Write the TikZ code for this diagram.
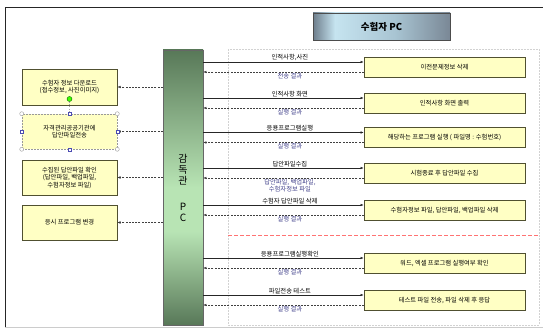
\documentclass[tikz,border=0pt]{standalone}
\usepackage{fontspec}
\newfontfamily\kr{Noto Sans CJK KR}
\usetikzlibrary{arrows.meta}
\definecolor{boxfill}{HTML}{FFFFC4}
\definecolor{boxdraw}{HTML}{505030}
\definecolor{bardk}{HTML}{587858}
\definecolor{barlt}{HTML}{B8E4B4}
\definecolor{retcol}{HTML}{40408A}
\definecolor{tdk}{HTML}{6E7E8C}
\definecolor{tlt}{HTML}{C6E4F0}
\definecolor{tmid}{HTML}{A8C4D2}
\definecolor{tdkr}{HTML}{7A8896}
\pgfdeclareverticalshading{barshade}{100bp}{color(0bp)=(bardk); color(25bp)=(bardk); color(42bp)=(barlt); color(50bp)=(barlt); color(75bp)=(bardk); color(100bp)=(bardk)}
\pgfdeclarehorizontalshading{titleshade}{100bp}{color(0bp)=(tdk); color(25bp)=(tdk); color(33bp)=(tlt); color(55bp)=(tmid); color(75bp)=(tdkr); color(100bp)=(tdkr)}
\begin{document}
\begin{tikzpicture}[x=1pt,y=-1pt,
  txt/.style={font=\kr\fontsize{6.3}{7.5}\selectfont},
  rbox/.style={txt, draw=boxdraw, fill=boxfill, line width=0.6pt, minimum width=161pt, minimum height=20pt, inner sep=0pt},
  lbox/.style={txt, draw=boxdraw, fill=boxfill, line width=0.6pt, minimum width=95pt, minimum height=35pt, inner sep=0pt, align=center},
  fwd/.style={draw=black!85, line width=0.5pt, -{Latex[length=3.2pt,width=2.6pt]}},
  ret/.style={draw=black!75, line width=0.5pt, dash pattern=on 2pt off 1.2pt, -{Latex[length=3.2pt,width=2.6pt]}},
  flab/.style={txt, text=black, inner sep=1pt},
  rlab/.style={txt, text=retcol, inner sep=1pt, align=center},
  hcirc/.style={circle, draw=gray!80, fill=white, line width=0.4pt, minimum size=4pt, inner sep=0pt},
  hsq/.style={rectangle, draw=blue!40!gray, fill=white, line width=0.4pt, minimum size=3pt, inner sep=0pt}
]
\useasboundingbox (0,0) rectangle (543,328);
% outer frame
\draw[black!85, line width=0.8pt] (543,7) -- (5,7) -- (5,327);
\draw[gray!40, line width=0.6pt] (5,327) -- (543,327);
% title
\node[draw=black!70, line width=0.6pt, shading=titleshade, minimum width=137pt, minimum height=27pt, font=\kr\bfseries\fontsize{9.5}{11}\selectfont] (title) at (381.5,26.5) {수험자 PC};
% dashed region
\draw[gray!35, line width=0.6pt, dash pattern=on 2pt off 1pt] (228,49) rectangle (539,325);
\draw[red!55!white, line width=0.6pt, dash pattern=on 4pt off 2pt] (228,235) -- (539,235);
% bar
\node[draw=black!60, line width=0.5pt, shading=barshade, minimum width=40pt, minimum height=275pt, inner sep=0pt, align=center, font=\kr\fontsize{10}{11}\selectfont] (bar) at (183,187.5) {감\\독\\관\\[15pt]P\\C};
% right boxes
\node[rbox] (r1) at (444.5,67) {이전문제정보 삭제};
\node[rbox] (r2) at (444.5,103) {인적사항 화면 출력};
\node[rbox] (r3) at (444.5,137.5) {해당하는 프로그램 실행 ( 파일명 : 수험번호)};
\node[rbox] (r4) at (444.5,173) {시험종료 후 답안파일 수집};
\node[rbox] (r5) at (444.5,210) {수험자정보 파일, 답안파일, 백업파일 삭제};
\node[rbox] (r6) at (444.5,263) {워드, 엑셀 프로그램 실행여부 확인};
\node[rbox] (r7) at (444.5,300) {테스트 파일 전송, 파일 삭제 후 응답};
\foreach \i in {1,...,7}{
  \path ([yshift=5pt]r\i.west) coordinate (f\i) ([yshift=-5pt]r\i.west) coordinate (b\i);
}
\draw[fwd] (f1 -| bar.east) -- (f1) node[flab, above, pos=0.54] {인적사항,사진};
\draw[ret] (b1) -- (b1 -| bar.east) node[rlab, below, pos=0.46] {전송 결과};
\draw[fwd] (f2 -| bar.east) -- (f2) node[flab, above, pos=0.54] {인적사항 화면};
\draw[ret] (b2) -- (b2 -| bar.east) node[rlab, below, pos=0.46] {실행 결과};
\draw[fwd] (f3 -| bar.east) -- (f3) node[flab, above, pos=0.54] {응용프로그램실행};
\draw[ret] (b3) -- (b3 -| bar.east) node[rlab, below, pos=0.46] {실행 결과};
\draw[fwd] (f4 -| bar.east) -- (f4) node[flab, above, pos=0.54] {답안파일수집};
\draw[ret] (b4) -- (b4 -| bar.east) node[rlab, below, pos=0.46] {답안파일, 백업파일,\\수험자정보 파일};
\draw[fwd] (f5 -| bar.east) -- (f5) node[flab, above, pos=0.54] {수험자 답안파일 삭제};
\draw[ret] (b5) -- (b5 -| bar.east) node[rlab, below, pos=0.46] {실행 결과};
\draw[fwd] (f6 -| bar.east) -- (f6) node[flab, above, pos=0.54] {응용프로그램실행확인};
\draw[ret] (b6) -- (b6 -| bar.east) node[rlab, below, pos=0.46] {실행 결과};
\draw[fwd] (f7 -| bar.east) -- (f7) node[flab, above, pos=0.54] {파일전송 테스트};
\draw[ret] (b7) -- (b7 -| bar.east) node[rlab, below, pos=0.46] {실행 결과};
% left boxes
\node[lbox, minimum height=36pt] (lA) at (69.5,87) {수험자 정보 다운로드\\(접수정보, 사진이미지)};
\node[lbox, draw=gray!80, dash pattern=on 2pt off 1pt] (lB) at (69.5,131.5) {자격관리공공기관에\\답안파일전송};
\node[lbox] (lC) at (69.5,177.5) {수집된 답안파일 확인\\(답안파일, 백업파일,\\수험자정보 파일)};
\node[lbox] (lD) at (69.5,222.5) {응시 프로그램 변경};
\foreach \n in {lA,lB,lC,lD}{
  \draw[ret] (bar.west |- \n.east) -- (\n.east);
}
% selection handles on lB
\node[circle, draw=green!40!black, fill=green!65!lime, line width=0.4pt, minimum size=5pt, inner sep=0pt] (rot) at (69.5,99) {};
\draw[gray!70, line width=0.4pt, dotted] (rot) -- (lB.north);
\foreach \a in {north west,north east,south west,south east}{
  \node[hcirc] at (lB.\a) {};
}
\foreach \a in {north,south,west,east}{
  \node[hsq] at (lB.\a) {};
}
\end{tikzpicture}
\end{document}
